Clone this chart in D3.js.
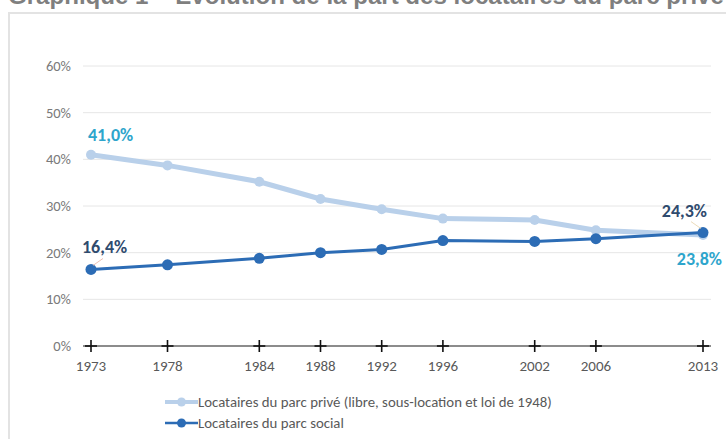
<!DOCTYPE html>
<html>
<head>
<meta charset="utf-8">
<script src="https://cdn.jsdelivr.net/npm/d3@7"></script>
<style>
  body { margin: 0; background: #fff; }
  svg { display: block; }
</style>
</head>
<body>
<div id="chart"></div>
<script>
// données
const years = [1973, 1978, 1984, 1988, 1992, 1996, 2002, 2006, 2013];
const prive = [41.0, 38.7, 35.2, 31.5, 29.3, 27.3, 27.0, 24.8, 23.8];
const social = [16.4, 17.4, 18.8, 20.0, 20.7, 22.6, 22.4, 23.0, 24.3];
const yTicks = [0, 10, 20, 30, 40, 50, 60];
const seriesNames = ["Locataires du parc privé (libre, sous-location et loi de 1948)", "Locataires du parc social"];
const titre = "Graphique 1 – Évolution de la part des locataires du parc privé";

const width = 726, height = 439;
const font = "Carlito, 'Open Sans', 'Noto Sans', sans-serif";

const svg = d3.select("#chart").append("svg")
    .attr("width", width)
    .attr("height", height);

// titre (coupé en haut)
const t = svg.append("text")
    .attr("x", 8)
    .attr("y", 4)
    .attr("font-family", "'Liberation Sans', Arial, sans-serif")
    .attr("font-weight", "bold")
    .attr("font-size", 19)
    .attr("fill", "#7f7f7f")
    .text(titre);
const tl = t.node().getComputedTextLength();
t.attr("font-size", 19 * 716 / tl);

// cadre
svg.append("rect")
    .attr("x", 9).attr("y", 13)
    .attr("width", 730).attr("height", 440)
    .attr("fill", "none")
    .attr("stroke", "#e3e3e3")
    .attr("stroke-width", 2);

const x = d3.scaleLinear().domain([1973, 2013]).range([91, 703]);
const y = d3.scaleLinear().domain([0, 60]).range([346, 66]);

// grille
svg.append("g")
    .selectAll("line")
    .data(yTicks.filter(d => d > 0))
    .join("line")
    .attr("x1", 83).attr("x2", 711)
    .attr("y1", d => y(d)).attr("y2", d => y(d))
    .attr("stroke", "#e6e6e6")
    .attr("stroke-width", 1);

// axe Y
svg.append("g")
    .selectAll("text")
    .data(yTicks)
    .join("text")
    .attr("x", 71)
    .attr("y", d => y(d))
    .attr("dy", "0.35em")
    .attr("text-anchor", "end")
    .attr("font-family", font)
    .attr("font-size", 14.5)
    .attr("fill", "#7a7a7a")
    .text(d => d + "%");

// axe X
svg.append("line")
    .attr("x1", 83).attr("x2", 711)
    .attr("y1", y(0)).attr("y2", y(0))
    .attr("stroke", "#666")
    .attr("stroke-width", 1.5);

const ticks = svg.append("g")
    .selectAll("g")
    .data(years)
    .join("g")
    .attr("transform", d => `translate(${x(d)},${y(0)})`);
ticks.append("line").attr("x1", -6).attr("x2", 6).attr("stroke", "#111").attr("stroke-width", 1.6);
ticks.append("line").attr("y1", -6).attr("y2", 6).attr("stroke", "#111").attr("stroke-width", 1.6);
ticks.append("text")
    .attr("y", 25)
    .attr("text-anchor", "middle")
    .attr("font-family", font)
    .attr("font-size", 15)
    .attr("fill", "#595959")
    .text(d => d);

// séries
const line = d3.line().x(d => x(d[0])).y(d => y(d[1]));
const series = [
    {name: seriesNames[0], values: years.map((yr, i) => [yr, prive[i]]), color: "#b9d0ea", w: 5, r: 5},
    {name: seriesNames[1], values: years.map((yr, i) => [yr, social[i]]), color: "#2c6cb5", w: 3, r: 5.5}
];

series.forEach(s => {
    svg.append("path")
        .datum(s.values)
        .attr("fill", "none")
        .attr("stroke", s.color)
        .attr("stroke-width", s.w)
        .attr("stroke-linejoin", "round")
        .attr("d", line);
    svg.append("g")
        .selectAll("circle")
        .data(s.values)
        .join("circle")
        .attr("cx", d => x(d[0]))
        .attr("cy", d => y(d[1]))
        .attr("r", s.r)
        .attr("fill", s.color);
});

// étiquettes de valeurs
const fmt = v => v.toFixed(1).replace(".", ",") + "%";
const labels = [
    {v: prive[0], yr: years[0], dx: -3, dy: -14, anchor: "start", color: "#2ea5cc"},
    {v: social[0], yr: years[0], dx: -9, dy: -16.5, anchor: "start", color: "#2f4b6e"},
    {v: social[8], yr: years[8], dx: 4, dy: -16, anchor: "end", color: "#2f4b6e"},
    {v: prive[8], yr: years[8], dx: 19, dy: 30, anchor: "end", color: "#2ea5cc"}
];
svg.append("g")
    .selectAll("text")
    .data(labels)
    .join("text")
    .attr("x", d => x(d.yr) + d.dx)
    .attr("y", d => y(d.v) + d.dy)
    .attr("text-anchor", d => d.anchor)
    .attr("font-family", font)
    .attr("font-weight", "bold")
    .attr("font-size", 18)
    .attr("fill", d => d.color)
    .text(d => fmt(d.v));

// petits traits de rappel
svg.append("line")
    .attr("x1", x(1973) + 2).attr("y1", y(social[0]) - 4)
    .attr("x2", x(1973) + 12).attr("y2", y(social[0]) - 11)
    .attr("stroke", "#e8b0a0").attr("stroke-width", 0.8);
svg.append("line")
    .attr("x1", x(2013) - 2).attr("y1", y(social[8]) - 4)
    .attr("x2", x(2013) - 12).attr("y2", y(social[8]) - 11)
    .attr("stroke", "#e6d2a8").attr("stroke-width", 0.8);

// légende
const legend = svg.append("g")
    .selectAll("g")
    .data(series)
    .join("g")
    .attr("transform", (d, i) => `translate(165,${402 + i * 21})`);
legend.append("line")
    .attr("x1", 0).attr("x2", 33)
    .attr("stroke", d => d.color)
    .attr("stroke-width", d => d.w * 0.8);
legend.append("circle")
    .attr("cx", 16.5)
    .attr("r", 4.5)
    .attr("fill", d => d.color);
legend.append("text")
    .attr("x", 33)
    .attr("dy", "0.35em")
    .attr("font-family", font)
    .attr("font-size", 14.8)
    .attr("fill", "#595959")
    .text(d => d.name);
</script>
</body>
</html>
